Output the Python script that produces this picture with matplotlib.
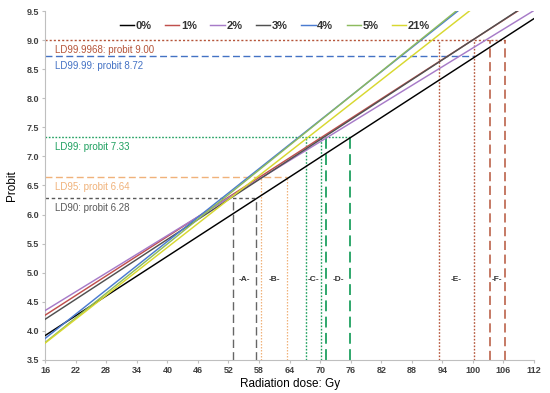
import numpy as np
import matplotlib.pyplot as plt

plt.rcParams['font.family'] = ['Liberation Sans', 'DejaVu Sans']

# probit lines, read at both ends of the dose axis
dose_ends = [16, 112]
series_names = ['0%', '1%', '2%', '3%', '4%', '5%', '21%']
probit_at_16 = [3.92, 4.27, 4.35, 4.20, 3.87, 3.80, 3.79]
probit_at_112 = [9.37, 9.68, 9.51, 9.69, 10.54, 10.58, 10.37]
series_colors = ['#000000', '#C0504D', '#A77BC8', '#505050', '#4A7BD0', '#8DBB5E', '#D8D830']

# lethal dose levels
ld_labels = ['LD90: probit 6.28', 'LD95: probit 6.64', 'LD99: probit 7.33',
             'LD99.99: probit 8.72', 'LD99.9968: probit 9.00']
ld_probits = [6.28, 6.64, 7.33, 8.72, 9.00]
ld_end_dose = [57.4, 63.5, 75.8, 100.2, 106.2]

# dose intervals (lower, upper) and the probit level they drop from
interval_names = ['A', 'B', 'C', 'D', 'E', 'F']
interval_low = [52.9, 58.4, 67.3, 71.2, 93.3, 103.3]
interval_high = [57.4, 63.5, 70.2, 75.8, 100.2, 106.2]
interval_top = [6.28, 6.64, 7.33, 7.33, 9.00, 9.00]

ld_colors = ['#595959', '#F0B27A', '#1FA060', '#4472C4', '#B5553A']
ld_styles = [(0, (2.5, 2)), (0, (5, 2.5)), (0, (1.2, 1.2)), (0, (5, 2.5)), (0, (1.5, 1.5))]
int_colors = ['#666666', '#F0B27A', '#1FA060', '#1FA060', '#B5553A', '#B5553A']
int_styles = [(0, (6, 3)), (0, (1.2, 1.2)), (0, (1.2, 1.2)), (0, (6, 3)), (0, (1.2, 1.2)), (0, (6, 3))]
int_widths = [1.0, 0.9, 1.0, 1.3, 1.0, 1.1]


def main():
    fig = plt.figure(figsize=(5.5, 3.93), dpi=100)
    ax = fig.add_axes([0.082, 0.084, 0.889, 0.888])

    # reference lines first so the series sit on top
    for lab, p, xe, c, ls in zip(ld_labels, ld_probits, ld_end_dose, ld_colors, ld_styles):
        ax.plot([16, xe], [p, p], color=c, lw=1.0, linestyle=ls, zorder=1)
        ax.text(18.0, p - 0.08, lab, color=c, fontsize=7, va='top', ha='left')

    for i, name in enumerate(interval_names):
        for xv in (interval_low[i], interval_high[i]):
            ax.plot([xv, xv], [3.5, interval_top[i]], color=int_colors[i],
                    lw=int_widths[i], linestyle=int_styles[i], zorder=1)
        xm = (interval_low[i] + interval_high[i]) / 2
        ax.text(xm, 4.88, '-' + name + '-', fontsize=6, color='#333333',
                ha='center', va='center', fontweight='bold')

    for name, y0, y1, c in zip(series_names, probit_at_16, probit_at_112, series_colors):
        ax.plot(dose_ends, [y0, y1], color=c, lw=1.05, label=name, zorder=3)

    ax.set_xlim(16, 112)
    ax.set_ylim(3.5, 9.5)
    ax.set_xticks(np.arange(16, 113, 6))
    ax.set_yticks(np.arange(3.5, 9.51, 0.5))
    ax.yaxis.set_major_formatter(plt.FormatStrFormatter('%.1f'))
    ax.tick_params(labelsize=6.5, colors='#BFBFBF', labelcolor='#404040', length=2.5, pad=2)
    for lbl in ax.get_xticklabels() + ax.get_yticklabels():
        lbl.set_fontweight('bold')
    for s in ['top', 'right']:
        ax.spines[s].set_visible(False)
    for s in ['left', 'bottom']:
        ax.spines[s].set_color('#BFBFBF')

    ax.set_xlabel('Radiation dose: Gy', fontsize=8.5, labelpad=2)
    ax.set_ylabel('Probit', fontsize=8.5, labelpad=6)

    leg = ax.legend(loc='upper center', bbox_to_anchor=(0.47, 1.0), ncol=7, frameon=False,
                    fontsize=8, handlelength=1.3, handletextpad=0.15, columnspacing=1.2)
    for t in leg.get_texts():
        t.set_fontweight('bold')
        t.set_color('#333333')

    fig.savefig('out.png', dpi=100)


if __name__ == '__main__':
    main()
